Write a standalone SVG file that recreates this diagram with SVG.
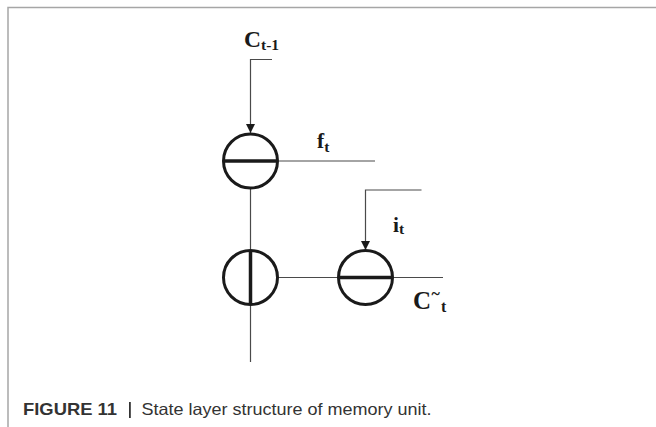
<svg xmlns="http://www.w3.org/2000/svg" width="656" height="427" viewBox="0 0 656 427">
<style>
.frame{fill:none;stroke:#a6a6a6;stroke-width:1.5}
.wire{fill:none;stroke:#4a4a4a;stroke-width:1.2}
.gate{fill:none;stroke:#1a1a1a;stroke-width:3}
.bar{stroke:#1a1a1a;stroke-width:3.5}
.m{font-family:"Liberation Serif",serif;font-weight:bold;fill:#1a1a1a}
.cap{font-family:"Liberation Sans",Arial,sans-serif;font-size:16.5px;fill:#333}
</style>
<defs>
<marker id="ah" viewBox="0 0 10 10" refX="10" refY="5" markerWidth="13" markerHeight="9" markerUnits="userSpaceOnUse" orient="auto"><path d="M0,0 L10,5 L0,10 Z" fill="#1a1a1a"/></marker>
</defs>
<path class="frame" d="M8,427 V7.5 H656"/>
<g id="connectors">
<path class="wire" d="M272,59.5 H250.5 V133" marker-end="url(#ah)"/>
<path class="wire" d="M279,161 H375"/>
<path class="wire" d="M250.5,189 V362"/>
<path class="wire" d="M279,277.5 H338"/>
<path class="wire" d="M393,277.5 H443"/>
<path class="wire" d="M421.5,190 H365.5 V250" marker-end="url(#ah)"/>
</g>
<g id="forget-gate">
<circle class="gate" cx="250.5" cy="161" r="27"/>
<line class="bar" x1="223.5" y1="161" x2="277.5" y2="161"/>
</g>
<g id="sum-node">
<circle class="gate" cx="250.5" cy="277.5" r="27"/>
<line class="bar" x1="250.5" y1="250.5" x2="250.5" y2="304.5"/>
</g>
<g id="input-gate">
<circle class="gate" cx="365.5" cy="277.5" r="27"/>
<line class="bar" x1="338.5" y1="277.5" x2="392.5" y2="277.5"/>
</g>
<g id="labels">
<text class="m" x="244" y="46.5" font-size="23.5">C<tspan font-size="15.5" dy="3">t-1</tspan></text>
<text class="m" x="317" y="148" font-size="21.5">f<tspan font-size="15.5" dy="3.5">t</tspan></text>
<text class="m" x="393" y="231.5" font-size="21.5">i<tspan font-size="15.5" dy="2">t</tspan></text>
<text class="m" x="413" y="309" font-size="25">C</text>
<text class="m" x="431.5" y="299" font-size="16" font-weight="normal">~</text>
<text class="m" x="441" y="311.5" font-size="16">t</text>
</g>
<g id="caption">
<text class="cap" x="23" y="415" font-weight="bold" textLength="94" lengthAdjust="spacingAndGlyphs">FIGURE 11</text>
<rect x="129" y="402" width="1.8" height="16" fill="#333"/>
<text class="cap" x="141.5" y="415" textLength="290" lengthAdjust="spacingAndGlyphs">State layer structure of memory unit.</text>
</g>
</svg>
